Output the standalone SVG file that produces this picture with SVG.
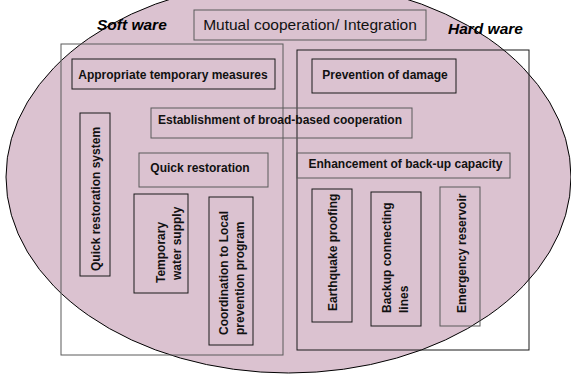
<svg xmlns="http://www.w3.org/2000/svg" width="571" height="376" viewBox="0 0 571 376">
<style>
.box{fill:none;stroke:#1a1a1a;stroke-width:1}
.grey{stroke:#5a5a5a}
.t{font-family:"Liberation Sans",Arial,sans-serif;font-weight:bold;font-size:12px;fill:#111}
.c{text-anchor:middle}
.big{font-family:"Liberation Sans",Arial,sans-serif;font-size:15.5px;fill:#111}
.lbl{font-family:"Liberation Sans",Arial,sans-serif;font-size:15.5px;font-weight:bold;font-style:italic;fill:#000}
</style>
<rect width="571" height="376" fill="#ffffff"/>
<g id="background-ellipse">
<ellipse cx="288.5" cy="177" rx="282.5" ry="196" fill="#DBC2D0" stroke="#000" stroke-width="1"/>
</g>
<g id="software">
<rect class="box grey" x="61" y="44" width="222" height="311"/>
<text class="lbl" x="97" y="30">Soft ware</text>
</g>
<g id="hardware">
<rect class="box" x="297" y="50" width="232" height="300"/>
<text class="lbl" x="448" y="34">Hard ware</text>
</g>
<g id="mutual">
<rect class="box grey" x="194" y="10" width="232" height="30"/>
<text class="big c" x="310" y="30">Mutual cooperation/ Integration</text>
</g>
<g id="appropriate">
<rect class="box" x="72" y="59" width="203" height="30"/>
<text class="t c" x="173" y="79">Appropriate temporary measures</text>
</g>
<g id="prevention">
<rect class="box" x="312" y="59" width="144" height="34"/>
<text class="t c" x="385" y="79">Prevention of damage</text>
</g>
<g id="establishment">
<rect class="box grey" x="151" y="108" width="261" height="30"/>
<text class="t c" x="280" y="124">Establishment of broad-based cooperation</text>
</g>
<g id="quick-system">
<rect class="box" x="80" y="113" width="30" height="163"/>
<text class="t" transform="translate(99.5,271) rotate(-90)">Quick restoration system</text>
</g>
<g id="quick-restoration">
<rect class="box grey" x="139" y="153" width="129" height="34"/>
<text class="t c" x="200" y="172">Quick restoration</text>
</g>
<g id="enhancement">
<rect class="box grey" x="297" y="153" width="213" height="25"/>
<text class="t c" x="405.5" y="168">Enhancement of back-up capacity</text>
</g>
<g id="temporary-water">
<rect class="box" x="134" y="194" width="54" height="99"/>
<text class="t" transform="translate(164.5,283) rotate(-90)">Temporary</text>
<text class="t" transform="translate(181,280) rotate(-90)">water supply</text>
</g>
<g id="coordination">
<rect class="box" x="209" y="197" width="44" height="148"/>
<text class="t" transform="translate(228,335) rotate(-90)">Coordination to Local</text>
<text class="t" transform="translate(243.5,335) rotate(-90)">prevention program</text>
</g>
<g id="earthquake">
<rect class="box" x="312" y="189" width="40" height="133"/>
<text class="t" transform="translate(336.5,311) rotate(-90)">Earthquake proofing</text>
</g>
<g id="backup">
<rect class="box" x="371" y="192" width="50" height="134"/>
<text class="t" transform="translate(391,313) rotate(-90)">Backup connecting</text>
<text class="t" transform="translate(407.5,313) rotate(-90)">lines</text>
</g>
<g id="emergency">
<rect class="box grey" x="440" y="187" width="40" height="139"/>
<text class="t" transform="translate(466,313) rotate(-90)">Emergency reservoir</text>
</g>
</svg>
